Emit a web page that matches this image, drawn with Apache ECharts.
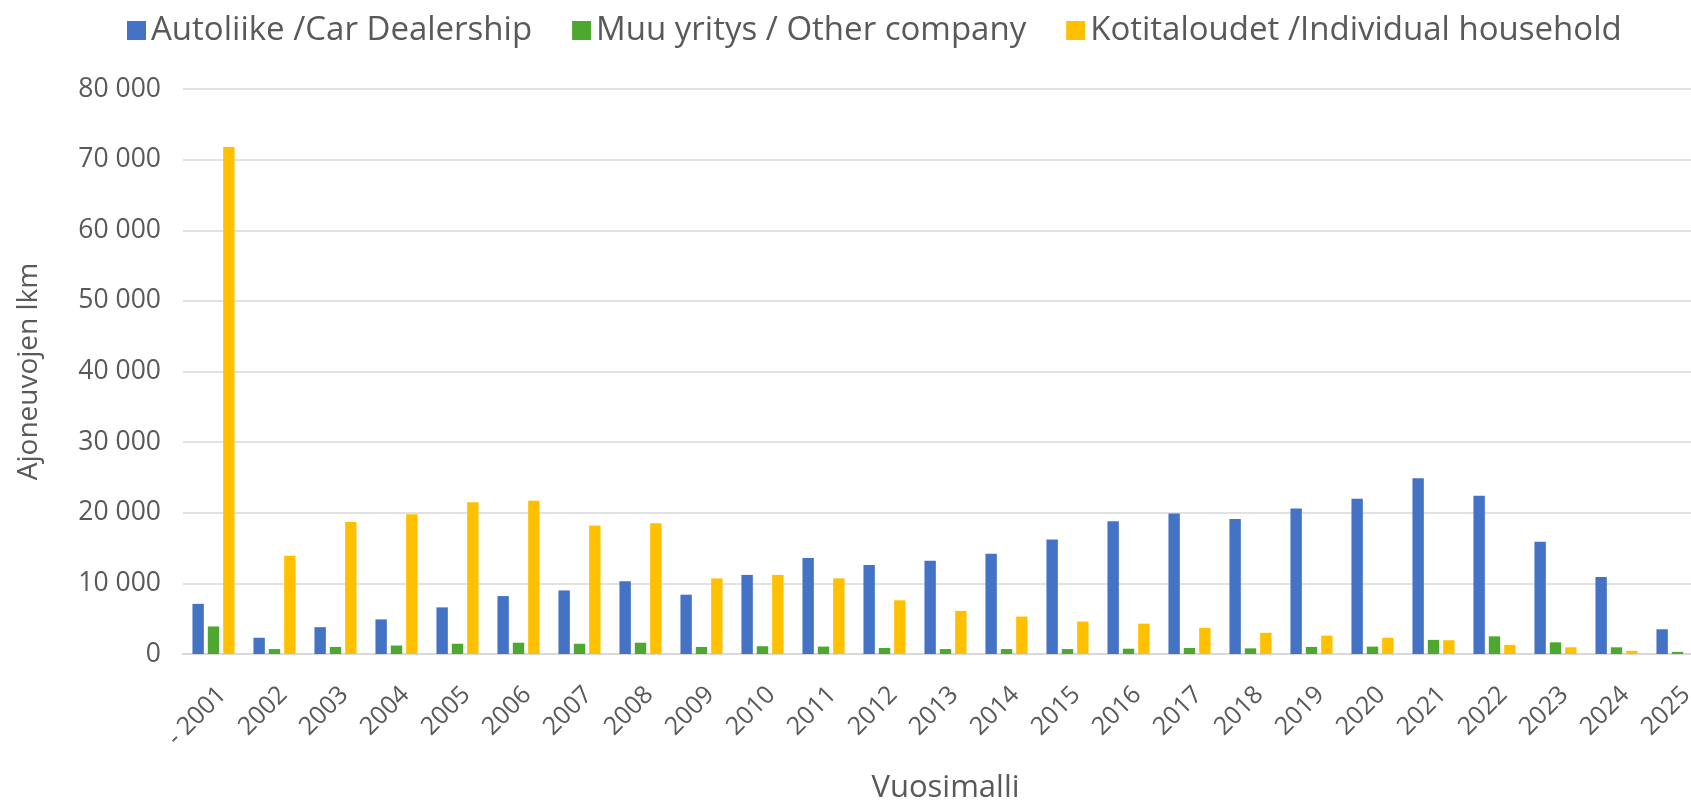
<!DOCTYPE html>
<html>
<head>
<meta charset="utf-8">
<script src="https://cdn.jsdelivr.net/npm/echarts@6/dist/echarts.min.js"></script>
<style>
  html, body { margin: 0; padding: 0; background: #fff; }
  #container { width: 1691px; height: 805px; }
</style>
</head>
<body>
<div id="container"></div>
<script>
var categories = ['- 2001', '2002', '2003', '2004', '2005', '2006', '2007', '2008', '2009', '2010',
  '2011', '2012', '2013', '2014', '2015', '2016', '2017', '2018', '2019', '2020',
  '2021', '2022', '2023', '2024', '2025'];

var dealership = [7100, 2300, 3800, 4900, 6600, 8200, 9000, 10300, 8400, 11200,
  13600, 12600, 13200, 14200, 16200, 18800, 19900, 19100, 20600, 22000,
  24900, 22400, 15900, 10900, 3500];

var otherCompany = [3900, 700, 1000, 1200, 1450, 1600, 1450, 1600, 1000, 1100,
  1050, 850, 700, 700, 700, 750, 850, 800, 1000, 1050,
  2000, 2500, 1650, 950, 300];

var household = [71800, 13900, 18700, 19800, 21500, 21700, 18200, 18500, 10700, 11200,
  10700, 7600, 6100, 5300, 4600, 4300, 3700, 3000, 2600, 2300,
  1950, 1300, 950, 450, 0];

var yTicks = [0, 10000, 20000, 30000, 40000, 50000, 60000, 70000, 80000];

var dom = document.getElementById('container');
var myChart = echarts.init(dom, null, { renderer: 'canvas' });

var font = 'Open Sans';
var textColor = '#595959';

function fmt(v) {
  return String(v).replace(/\B(?=(\d{3})+(?!\d))/g, ' ');
}

var option = {
  animation: false,
  textStyle: { fontFamily: font },
  legend: {
    top: 9,
    left: 122,
    itemWidth: 19,
    itemHeight: 19,
    itemGap: 40,
    icon: 'rect',
    textStyle: { fontFamily: font, fontSize: 33, color: textColor },
    data: ['Autoliike /Car Dealership', 'Muu yritys / Other company', 'Kotitaloudet /Individual household']
  },
  // the plot area runs a little past the right edge of the picture
  grid: { left: 183, right: -17, top: 89, bottom: 151, containLabel: false, outerBoundsMode: 'none' },
  xAxis: {
    type: 'category',
    data: categories,
    name: 'Vuosimalli',
    nameLocation: 'middle',
    nameGap: 119,
    nameTextStyle: { fontFamily: font, fontSize: 31, color: textColor },
    axisLine: { lineStyle: { color: '#d9d9d9', width: 2 } },
    axisTick: { show: false },
    axisLabel: {
      rotate: 45, margin: 28, align: 'right', verticalAlign: 'top',
      fontFamily: font, fontSize: 25, color: textColor, interval: 0
    }
  },
  yAxis: {
    type: 'value',
    min: yTicks[0],
    max: yTicks[yTicks.length - 1],
    interval: yTicks[1] - yTicks[0],
    name: 'Ajoneuvojen lkm',
    nameLocation: 'middle',
    nameGap: 140,
    nameTextStyle: { fontFamily: font, fontSize: 28, color: textColor },
    axisLine: { show: false },
    axisTick: { show: false },
    axisLabel: { margin: 22, fontFamily: font, fontSize: 26.5, color: textColor, formatter: fmt },
    splitLine: { lineStyle: { color: '#d9d9d9', width: 1.5 } }
  },
  series: [
    {
      name: 'Autoliike /Car Dealership',
      type: 'bar',
      data: dealership,
      barGap: '35%',
      barCategoryGap: '31%',
      itemStyle: { color: '#4472c4' }
    },
    {
      name: 'Muu yritys / Other company',
      type: 'bar',
      data: otherCompany,
      itemStyle: { color: '#4ea72e' }
    },
    {
      name: 'Kotitaloudet /Individual household',
      type: 'bar',
      data: household,
      itemStyle: { color: '#ffc000' }
    }
  ]
};

myChart.setOption(option);
window.addEventListener('resize', myChart.resize);
</script>
</body>
</html>
